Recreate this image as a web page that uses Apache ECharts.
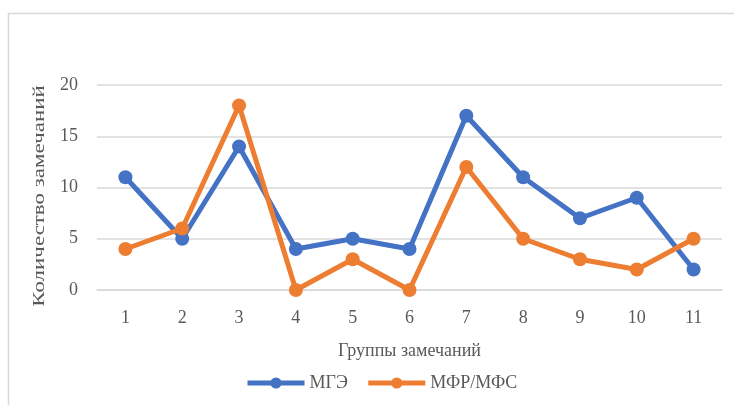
<!DOCTYPE html>
<html><head><meta charset="utf-8">
<script src="https://cdn.jsdelivr.net/npm/echarts@6/dist/echarts.min.js"></script>
<style>html,body{margin:0;padding:0;background:#fff}#c{width:734px;height:405px}</style>
</head><body><div id="c"></div>
<script>
var categories = ['1','2','3','4','5','6','7','8','9','10','11'];
var seriesMGE = [11,5,14,4,5,4,17,11,7,9,2];
var seriesMFR = [4,6,18,0,3,0,12,5,3,2,5];
var seriesNames = ['МГЭ','МФР/МФС'];
var xTitle = 'Группы замечаний';
var yTitle = 'Количество замечаний';

var font = '"Liberation Serif", "Times New Roman", serif';
var chart = echarts.init(document.getElementById('c'));
chart.setOption({
  animation: false,
  graphic: [
    {type:'rect', shape:{x:8.5,y:13.5,width:740,height:400}, style:{fill:'none',stroke:'#d9d9d9',lineWidth:1.5}},
    {type:'text', x:40, y:196, rotation:Math.PI/2, scaleX:1.35,
     style:{text:yTitle, fill:'#595959', font:'17px ' + font, textAlign:'center', textVerticalAlign:'middle'}}
  ],
  grid: {left:97, right:12, top:85, bottom:115},
  legend: {
    data: seriesNames, top: 369, left: 240, itemWidth: 57, itemHeight: 14, itemGap: 18,
    lineStyle: {width: 5},
    textStyle: {fontFamily: font, fontSize: 18, color: '#595959'}
  },
  xAxis: {
    type:'category', data: categories, boundaryGap: true,
    name: xTitle, nameLocation:'middle', nameGap: 52,
    nameTextStyle:{fontFamily:font, fontSize:18, color:'#595959'},
    axisLine:{lineStyle:{color:'#d9d9d9', width:1.5}}, axisTick:{show:false},
    axisLabel:{fontFamily:font, fontSize:18, color:'#595959', margin:19}
  },
  yAxis: {
    type:'value', min:0, max:20, interval:5,
    axisLine:{show:false}, axisTick:{show:false},
    axisLabel:{fontFamily:font, fontSize:18, color:'#595959', margin:19},
    splitLine:{lineStyle:{color:'#d9d9d9', width:1.5}}
  },
  series: [
    {name: seriesNames[0], type:'line', data: seriesMGE, symbol:'circle', symbolSize:14,
     lineStyle:{color:'#4472C4', width:5}, itemStyle:{color:'#4472C4'}},
    {name: seriesNames[1], type:'line', data: seriesMFR, symbol:'circle', symbolSize:14,
     lineStyle:{color:'#ED7D31', width:5}, itemStyle:{color:'#ED7D31'}}
  ]
});
</script></body></html>
